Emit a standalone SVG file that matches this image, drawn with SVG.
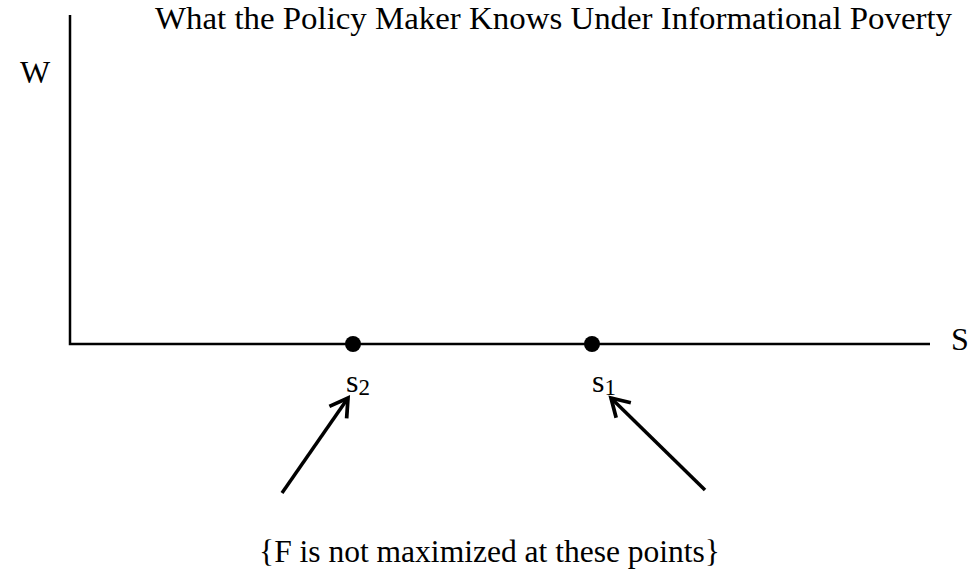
<svg xmlns="http://www.w3.org/2000/svg" width="974" height="571" viewBox="0 0 974 571">
<style>
text{font-family:'Times New Roman','Liberation Serif',Tinos,serif;fill:#000;font-size:32px}
.axis{stroke:#000;stroke-width:2.5;fill:none}
.arr{stroke:#000;stroke-width:3.5;fill:none}
.sub{font-size:23px}
</style>
<defs>
<marker id="open" viewBox="0 0 12 12" refX="10" refY="6" markerWidth="8" markerHeight="8" orient="auto" markerUnits="strokeWidth">
<path d="M2.5,1.5 L10,6 L2.5,10.5" fill="none" stroke="#000" stroke-width="1.6"/>
</marker>
</defs>
<rect width="974" height="571" fill="#fff"/>
<text id="title" x="155" y="29" textLength="797" lengthAdjust="spacingAndGlyphs">What the Policy Maker Knows Under Informational Poverty</text>
<g id="axes">
<path class="axis" d="M70,15 V344 H930"/>
<text x="20" y="83">W</text>
<text x="951" y="350">S</text>
</g>
<g id="s2">
<circle cx="353" cy="344" r="8" fill="#000"/>
<text x="346" y="392">s<tspan class="sub" dy="3">2</tspan></text>
</g>
<g id="s1">
<circle cx="592" cy="344" r="8" fill="#000"/>
<text x="592" y="392">s<tspan class="sub" dy="3">1</tspan></text>
</g>
<g id="connectors">
<line class="arr" x1="282" y1="493" x2="348" y2="398" marker-end="url(#open)"/>
<line class="arr" x1="705" y1="490" x2="611" y2="398" marker-end="url(#open)"/>
</g>
<g id="note">
<text x="259" y="562" textLength="461" lengthAdjust="spacingAndGlyphs">{F is not maximized at these points}</text>
</g>
</svg>
